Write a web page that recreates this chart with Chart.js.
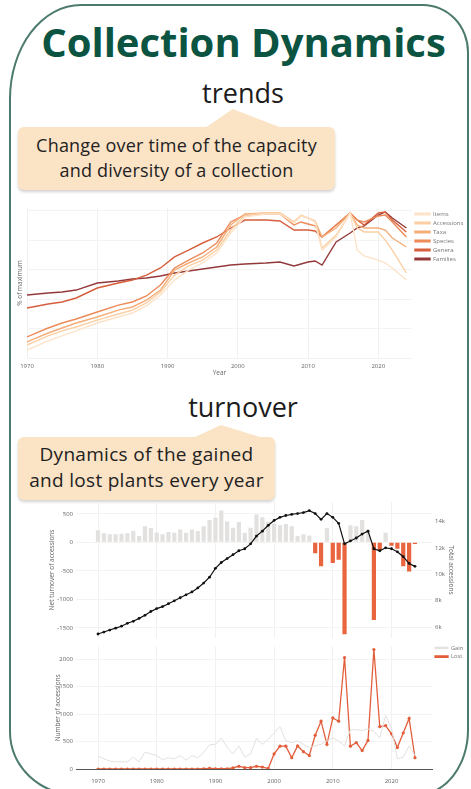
<!DOCTYPE html>
<html>
<head>
<meta charset="utf-8">
<title>Collection Dynamics</title>
<script src="https://cdn.jsdelivr.net/npm/chart.js@4.4.1/dist/chart.umd.min.js"></script>
<style>
  html, body { margin: 0; padding: 0; background: #fff; }
  body { width: 471px; height: 789px; position: relative; overflow: hidden; font-family: 'Open Sans', sans-serif; }
  .card {
    position: absolute; left: 9px; top: 4px; width: 460px; height: 792px; box-sizing: border-box;
    border: 2px solid #4d7a6e; border-radius: 72px 46px 52px 68px / 95px 48px 66px 64px;
  }
  h1 { position: absolute; left: 0; top: 14px; width: 487px; margin: 0; text-align: center;
       font-size: 40px; font-weight: 700; color: #0b5441; letter-spacing: 0; }
  .sub { position: absolute; left: 0; width: 486px; text-align: center; font-size: 27px; color: #1c1c1c; }
  .callout { position: absolute; background: #fbe3c6; border-radius: 6px; box-shadow: 0 2px 3px rgba(0,0,0,.18);
             text-align: center; color: #222; box-sizing: border-box; }
  .tip { position: absolute; background: #fbe3c6; }
  canvas { position: absolute; left: 0; }
</style>
</head>
<body>
<div class="card"></div>
<h1>Collection Dynamics</h1>
<div class="sub" style="top:74px;">trends</div>
<div class="tip" style="left:205px; top:109px; width:77px; height:19px; clip-path: polygon(0 100%, 36% 0, 100% 100%);"></div>
<div class="callout" style="left:18px; top:127px; width:317px; height:63px; padding-top:6px; font-size:18px; line-height:25px; letter-spacing:0.2px;">Change over time of the capacity<br>and diversity of a collection</div>
<div class="sub" style="top:388px;">turnover</div>
<div class="tip" style="left:193px; top:425px; width:70px; height:13px; clip-path: polygon(0 100%, 40% 0, 100% 100%);"></div>
<div class="callout" style="left:18px; top:437px; width:257px; height:63px; padding-top:4px; font-size:19px; line-height:26px; letter-spacing:0.3px;">Dynamics of the gained<br>and lost plants every year</div>

<canvas id="trends" width="471" height="180" style="top:200px;"></canvas>
<canvas id="net" width="471" height="150" style="top:495px;"></canvas>
<canvas id="gainlost" width="471" height="149" style="top:640px;"></canvas>

<script>
Chart.defaults.font.family = "'Open Sans', sans-serif";
Chart.defaults.color = '#666';

// ---- trends: % of maximum ----
const TREND_YEARS = [1970, 1973, 1975, 1977, 1980, 1983, 1985, 1987, 1989, 1991, 1993, 1995, 1997, 1999, 2001,
                     2004, 2006, 2008, 2009, 2010, 2011, 2012, 2014, 2016, 2017, 2018, 2020, 2021, 2022, 2024];
const ITEMS      = [5.4, 11.6, 15.0, 18.4, 23.8, 27.9, 30.6, 35.4, 42.8, 53.0, 59.8, 64.6, 71.4, 85.0, 95.9,
                    97.9, 97.9, 91.8, 96.6, 95.2, 92.5, 73.4, 82.3, 98.6, 73.4, 69.4, 66.6, 64.6, 61.2, 53.0];
const ACCESSIONS = [8.8, 15.0, 18.4, 21.1, 25.8, 29.9, 32.6, 37.4, 44.9, 56.4, 62.6, 66.6, 73.4, 87.0, 97.2,
                    98.6, 98.6, 92.5, 97.2, 95.2, 92.5, 74.8, 83.6, 98.6, 88.4, 85.7, 85.7, 80.2, 73.4, 57.8];
const TAXA       = [10.9, 17.0, 20.4, 23.8, 27.9, 32.6, 34.7, 39.4, 46.2, 59.8, 64.6, 68.7, 75.5, 90.4, 97.9,
                    98.6, 98.6, 92.5, 96.6, 95.2, 93.2, 82.3, 88.4, 98.6, 90.4, 88.4, 88.4, 87.0, 81.6, 75.5];
const SPECIES    = [14.3, 20.4, 23.8, 26.5, 31.3, 36.0, 38.1, 42.2, 49.6, 61.2, 66.6, 71.4, 78.2, 92.5, 97.2,
                    97.9, 97.9, 90.4, 92.5, 91.1, 89.8, 82.3, 90.4, 98.6, 93.8, 92.5, 96.6, 97.2, 92.5, 82.3];
const GENERA     = [34.0, 36.7, 38.1, 40.8, 47.6, 51.0, 53.0, 56.4, 61.2, 68.7, 73.4, 78.2, 82.3, 88.4, 93.8,
                    93.8, 93.2, 87.0, 87.0, 87.0, 86.4, 82.3, 90.4, 98.6, 93.8, 90.4, 98.6, 99.3, 93.8, 85.7];
const FAMILIES   = [42.8, 44.2, 44.9, 46.2, 51.0, 52.4, 53.7, 54.4, 55.8, 57.8, 59.2, 60.5, 61.9, 63.2, 63.9,
                    64.6, 65.3, 62.6, 63.9, 65.3, 66.0, 63.2, 78.9, 85.0, 88.4, 89.8, 97.2, 99.3, 95.2, 88.4];
const TREND_NAMES  = ['Items', 'Accessions', 'Taxa', 'Species', 'Genera', 'Families'];
const TREND_SERIES = [ITEMS, ACCESSIONS, TAXA, SPECIES, GENERA, FAMILIES];
const TREND_COLORS = ['#fde3c8', '#fbcfa3', '#f5ad78', '#ec8a58', '#d65e3c', '#93393a'];

// ---- turnover: yearly ----
const YEARS = [1970, 1971, 1972, 1973, 1974, 1975, 1976, 1977, 1978, 1979,
               1980, 1981, 1982, 1983, 1984, 1985, 1986, 1987, 1988, 1989,
               1990, 1991, 1992, 1993, 1994, 1995, 1996, 1997, 1998, 1999,
               2000, 2001, 2002, 2003, 2004, 2005, 2006, 2007, 2008, 2009,
               2010, 2011, 2012, 2013, 2014, 2015, 2016, 2017, 2018, 2019,
               2020, 2021, 2022, 2023, 2024];
const NET   = [210, 160, 140, 140, 150, 160, 200, 110, 280, 250,
               170, 140, 180, 170, 225, 170, 225, 200, 280, 390,
               430, 560, 365, 255, 355, 170, 255, 490, 440, 360,
               330, 300, 320, 280, 110, 140, 120, -190, -420, 250,
               -360, -305, -1610, 300, 280, 390, 220, -1360, -140, 170,
               -60, -110, -420, -510, -30];
const TOTAL = [5490, 5640, 5790, 5930, 6080, 6300, 6450, 6670, 6900, 7190,
               7410, 7560, 7780, 8000, 8230, 8450, 8670, 8970, 9340, 9780,
               10450, 10890, 11190, 11480, 11780, 11930, 12300, 12890, 13260, 13700,
               14070, 14300, 14440, 14520, 14590, 14660, 14810, 14590, 14150, 14590,
               14300, 13850, 12300, 12520, 12740, 13040, 13260, 11930, 11780, 12000,
               11930, 11700, 11330, 10820, 10600];
const GAIN  = [235, 185, 145, 130, 130, 130, 215, 130, 305, 275,
               245, 170, 205, 185, 245, 160, 245, 205, 305, 440,
               450, 565, 390, 275, 420, 215, 275, 555, 450, 540,
               655, 770, 510, 480, 510, 450, 390, 420, 450, 510,
               565, 510, 420, 715, 715, 700, 730, 685, 565, 975,
               740, 185, 215, 420, 245];
const LOST  = [0, 0, 0, 0, 0, 0, 0, 0, 0, 0,
               0, 0, 0, 0, 0, 0, 0, 0, 5, 10,
               5, 5, 5, 20, 50, 25, 25, 50, 35, 10,
               275, 415, 415, 205, 420, 315, 245, 615, 870, 450,
               930, 870, 2030, 415, 480, 335, 520, 2175, 770, 790,
               640, 390, 655, 920, 205];

// tick labels
const YEAR_TICKS  = [1970, 1980, 1990, 2000, 2010, 2020];
const NET_TICKS   = [-1500, -1000, -500, 0, 500];
const TOTAL_TICKS = [6000, 8000, 10000, 12000, 14000];
const COUNT_TICKS = [0, 500, 1000, 1500, 2000];
const PCT_TICKS   = [0, 20, 40, 60, 80, 100];

const GRAY = '#e3e1df';
const ORANGE = '#e8653f';
const tickFont = { size: 6 };
const titleFont = { size: 6.5 };
const pts = (xs, ys) => xs.map((x, i) => ({ x, y: ys[i] }));
const plain = v => String(v);
const useTicks = list => s => { s.ticks = list.map(value => ({ value })); };

// trends chart
new Chart(document.getElementById('trends'), {
  type: 'line',
  data: {
    datasets: TREND_SERIES.map((s, i) => ({
      label: TREND_NAMES[i],
      data: pts(TREND_YEARS, s),
      borderColor: TREND_COLORS[i],
      backgroundColor: TREND_COLORS[i],
      borderWidth: 1.4,
      pointRadius: 0,
      tension: 0,
    }))
  },
  options: {
    responsive: false,
    animation: false,
    layout: { padding: { top: 8 } },
    plugins: {
      legend: {
        position: 'right', align: 'start', fullSize: false, maxWidth: 59,
        labels: { boxWidth: 15, boxHeight: 1.5, padding: 3, font: tickFont, color: '#777' }
      },
      tooltip: { enabled: false },
    },
    scales: {
      x: {
        type: 'linear', min: 1970, max: 2024.8,
        afterBuildTicks: useTicks(YEAR_TICKS),
        ticks: { padding: 5, font: tickFont, callback: plain },
        grid: { color: '#f0f0f0', drawTicks: false },
        border: { display: false },
        title: { display: true, text: 'Year', font: titleFont, padding: { top: 0, bottom: 3 } },
        afterFit: s => { s.height = 22; },
      },
      y: {
        min: 0, max: 102,
        afterBuildTicks: useTicks(PCT_TICKS),
        ticks: { display: false },
        grid: { color: '#f3f3f3', drawTicks: false },
        border: { display: false },
        title: { display: true, text: '% of maximum', font: titleFont, padding: { top: 16, bottom: 0 } },
        afterFit: s => { s.width = 27; },
      }
    }
  }
});

// net turnover + total accessions
new Chart(document.getElementById('net'), {
  data: {
    datasets: [
      {
        type: 'line', label: 'Total accessions', data: pts(YEARS, TOTAL), yAxisID: 'yR',
        borderColor: '#111', borderWidth: 1.2, pointRadius: 1.4, pointBackgroundColor: '#111',
        pointBorderWidth: 0, order: 0,
      },
      {
        type: 'bar', label: 'Net turnover', data: pts(YEARS, NET), yAxisID: 'yL',
        backgroundColor: NET.map(v => v >= 0 ? GRAY : ORANGE),
        categoryPercentage: 0.8, barPercentage: 0.9, order: 1,
      }
    ]
  },
  options: {
    responsive: false,
    animation: false,
    layout: { padding: { top: 5 } },
    plugins: { legend: { display: false }, tooltip: { enabled: false } },
    scales: {
      x: {
        type: 'linear', min: 1966.25, max: 2026.9, offset: false,
        afterBuildTicks: useTicks(YEAR_TICKS),
        ticks: { display: false },
        grid: { color: '#f1f1f1', drawTicks: false, offset: false },
        border: { display: false },
        afterFit: s => { s.height = 5; },
      },
      yL: {
        position: 'left', min: -1683, max: 714,
        afterBuildTicks: useTicks(NET_TICKS),
        ticks: { padding: 3, font: tickFont, callback: plain },
        grid: { color: '#f3f3f3', drawTicks: false },
        border: { display: false },
        title: { display: true, text: 'Net turnover of accessions', font: titleFont, padding: { top: 48, bottom: 0 } },
        afterFit: s => { s.width = 76; },
      },
      yR: {
        position: 'right', min: 5159, max: 15491,
        afterBuildTicks: useTicks(TOTAL_TICKS),
        ticks: { padding: 3, font: tickFont, callback: v => (v / 1000) + 'k' },
        grid: { display: false, drawTicks: false },
        border: { display: false },
        title: { display: true, text: 'Total accessions', font: titleFont, padding: { top: 16, bottom: 0 } },
        afterFit: s => { s.width = 39; },
      }
    }
  }
});

// gained vs lost
new Chart(document.getElementById('gainlost'), {
  type: 'line',
  data: {
    datasets: [
      {
        label: 'Gain', data: pts(YEARS, GAIN), borderColor: GRAY, backgroundColor: GRAY,
        borderWidth: 1, pointRadius: 0, tension: 0,
      },
      {
        label: 'Lost', data: pts(YEARS, LOST), borderColor: '#e25e3b', backgroundColor: '#e25e3b',
        borderWidth: 1.3, pointRadius: 1.6, pointBorderWidth: 0, pointBackgroundColor: '#e25e3b', tension: 0,
      }
    ]
  },
  options: {
    responsive: false,
    animation: false,
    layout: { padding: { top: 2 } },
    plugins: {
      legend: {
        position: 'right', align: 'start', fullSize: true, maxWidth: 39,
        labels: { boxWidth: 13, boxHeight: 1.5, padding: 3, font: { size: 5.8 }, color: '#777' }
      },
      tooltip: { enabled: false },
    },
    scales: {
      x: {
        type: 'linear', min: 1966.25, max: 2026.9,
        afterBuildTicks: useTicks(YEAR_TICKS),
        ticks: { padding: 9, font: tickFont, callback: plain },
        grid: { color: '#f1f1f1', drawTicks: false },
        border: { display: true, color: '#555', width: 1 },
        afterFit: s => { s.height = 20; },
      },
      y: {
        min: 0, max: 2228,
        afterBuildTicks: useTicks(COUNT_TICKS),
        ticks: { padding: 3, font: tickFont, callback: plain },
        grid: { color: '#f3f3f3', drawTicks: false },
        border: { display: false },
        title: { display: true, text: 'Number of accessions', font: titleFont, padding: { top: 54, bottom: 0 } },
        afterFit: s => { s.width = 76; },
      }
    }
  }
});
</script>
</body>
</html>
